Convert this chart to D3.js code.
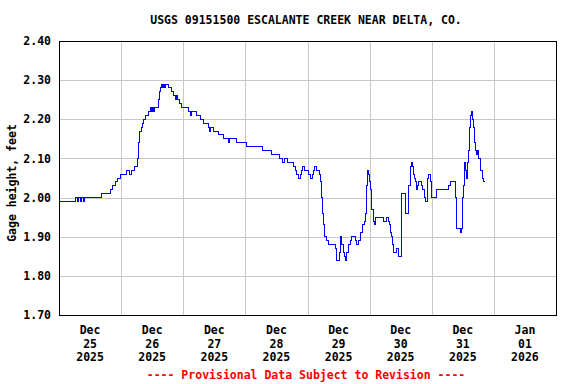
<!DOCTYPE html>
<html>
<head>
<meta charset="utf-8">
<script src="https://cdn.jsdelivr.net/npm/d3@7"></script>
<style>
  body { margin: 0; background: #fff; }
  text { font-family: "DejaVu Sans Mono", "Liberation Mono", monospace; font-weight: bold; }
</style>
</head>
<body>
<div id="my_dataviz"></div>
<script>
// gage height readings (15-min data, only the points where the value changes)
var times = [
  "2025-12-25 00:00","2025-12-25 06:20","2025-12-25 07:10","2025-12-25 07:30","2025-12-25 08:15","2025-12-25 08:40",
  "2025-12-25 09:25","2025-12-25 09:50","2025-12-25 16:25","2025-12-25 19:50","2025-12-25 20:40","2025-12-25 21:50",
  "2025-12-25 22:45","2025-12-25 23:55","2025-12-26 02:00","2025-12-26 03:05","2025-12-26 04:00","2025-12-26 05:10",
  "2025-12-26 06:15","2025-12-26 06:35","2025-12-26 06:45","2025-12-26 07:05","2025-12-26 07:50","2025-12-26 08:15",
  "2025-12-26 08:50","2025-12-26 09:30","2025-12-26 10:25","2025-12-26 11:25","2025-12-26 11:55","2025-12-26 12:15",
  "2025-12-26 12:40","2025-12-26 13:00","2025-12-26 14:25","2025-12-26 14:45","2025-12-26 15:10","2025-12-26 15:35",
  "2025-12-26 16:10","2025-12-26 16:25","2025-12-26 16:55","2025-12-26 17:15","2025-12-26 18:15","2025-12-26 19:25",
  "2025-12-26 20:10","2025-12-26 20:55","2025-12-26 21:20","2025-12-26 21:45","2025-12-26 22:30","2025-12-26 23:15",
  "2025-12-27 02:00","2025-12-27 02:45","2025-12-27 03:10","2025-12-27 05:05","2025-12-27 06:35","2025-12-27 07:45",
  "2025-12-27 09:40","2025-12-27 10:15","2025-12-27 10:40","2025-12-27 11:35","2025-12-27 13:30","2025-12-27 15:30",
  "2025-12-27 17:25","2025-12-27 17:45","2025-12-27 20:45","2025-12-28 00:35","2025-12-28 06:40","2025-12-28 09:55",
  "2025-12-28 13:10","2025-12-28 14:20","2025-12-28 15:10","2025-12-28 16:05","2025-12-28 18:35","2025-12-28 19:15",
  "2025-12-28 19:55","2025-12-28 20:30","2025-12-28 21:10","2025-12-28 21:35","2025-12-28 22:05","2025-12-28 22:50",
  "2025-12-29 00:15","2025-12-29 01:00","2025-12-29 02:00","2025-12-29 02:20","2025-12-29 02:40","2025-12-29 03:40",
  "2025-12-29 04:40","2025-12-29 04:55","2025-12-29 05:15","2025-12-29 05:35","2025-12-29 05:50","2025-12-29 06:10",
  "2025-12-29 06:35","2025-12-29 07:15","2025-12-29 08:05","2025-12-29 10:40","2025-12-29 11:05","2025-12-29 11:20",
  "2025-12-29 12:25","2025-12-29 12:35","2025-12-29 13:00","2025-12-29 13:15","2025-12-29 13:45","2025-12-29 14:15",
  "2025-12-29 14:40","2025-12-29 15:10","2025-12-29 15:50","2025-12-29 16:30","2025-12-29 17:10","2025-12-29 18:25",
  "2025-12-29 19:05","2025-12-29 19:40","2025-12-29 20:35","2025-12-29 21:25","2025-12-29 22:10","2025-12-29 22:30",
  "2025-12-29 22:40","2025-12-29 22:55","2025-12-29 23:10","2025-12-29 23:40","2025-12-30 00:00","2025-12-30 00:10",
  "2025-12-30 00:35","2025-12-30 00:50","2025-12-30 01:20","2025-12-30 01:45","2025-12-30 02:05","2025-12-30 05:15",
  "2025-12-30 06:20","2025-12-30 07:15","2025-12-30 07:45","2025-12-30 08:10","2025-12-30 08:35","2025-12-30 08:50",
  "2025-12-30 09:10","2025-12-30 10:30","2025-12-30 11:05","2025-12-30 12:20","2025-12-30 12:30","2025-12-30 13:40",
  "2025-12-30 13:55","2025-12-30 14:50","2025-12-30 15:05","2025-12-30 15:40","2025-12-30 15:55","2025-12-30 16:15",
  "2025-12-30 16:40","2025-12-30 16:55","2025-12-30 17:10","2025-12-30 17:40","2025-12-30 17:55","2025-12-30 18:20",
  "2025-12-30 18:50","2025-12-30 20:05","2025-12-30 20:30","2025-12-30 21:10","2025-12-30 21:40","2025-12-30 22:10",
  "2025-12-30 22:30","2025-12-30 22:50","2025-12-30 23:20","2025-12-30 23:45","2025-12-31 01:55","2025-12-31 06:25",
  "2025-12-31 07:05","2025-12-31 09:00","2025-12-31 09:10","2025-12-31 09:25","2025-12-31 09:40","2025-12-31 10:55",
  "2025-12-31 11:20","2025-12-31 11:50","2025-12-31 12:00","2025-12-31 12:10","2025-12-31 12:30","2025-12-31 12:50",
  "2025-12-31 13:10","2025-12-31 13:30","2025-12-31 13:50","2025-12-31 14:05","2025-12-31 14:25","2025-12-31 14:45",
  "2025-12-31 15:05","2025-12-31 15:20","2025-12-31 15:45","2025-12-31 16:05","2025-12-31 16:25","2025-12-31 16:55",
  "2025-12-31 17:15","2025-12-31 17:35","2025-12-31 18:05","2025-12-31 18:40","2025-12-31 19:00","2025-12-31 19:30",
  "2025-12-31 19:55","2025-12-31 20:35"
];
var gage = [
  1.99,2.00,1.99,2.00,1.99,2.00,
  1.99,2.00,2.01,2.02,2.03,2.04,
  2.05,2.06,2.07,2.06,2.07,2.08,
  2.10,2.12,2.14,2.17,2.18,2.19,
  2.20,2.21,2.22,2.23,2.22,2.23,
  2.22,2.23,2.25,2.27,2.28,2.29,
  2.28,2.29,2.28,2.29,2.28,2.27,
  2.26,2.25,2.26,2.25,2.24,2.23,
  2.22,2.21,2.22,2.21,2.20,2.19,
  2.18,2.17,2.18,2.17,2.16,2.15,
  2.14,2.15,2.14,2.13,2.12,2.11,
  2.10,2.09,2.10,2.09,2.08,2.07,
  2.06,2.05,2.06,2.07,2.08,2.07,
  2.06,2.05,2.06,2.07,2.08,2.07,
  2.06,2.04,2.02,2.00,1.96,1.93,
  1.90,1.89,1.88,1.87,1.86,1.84,
  1.86,1.90,1.89,1.88,1.86,1.85,
  1.84,1.86,1.88,1.89,1.90,1.89,
  1.88,1.89,1.91,1.93,1.94,1.96,
  1.99,2.03,2.07,2.06,2.04,2.02,
  1.99,1.97,1.94,1.93,1.95,1.94,
  1.95,1.94,1.93,1.91,1.90,1.88,
  1.86,1.87,1.85,1.94,2.01,1.97,
  1.96,2.00,2.03,2.07,2.08,2.09,
  2.08,2.06,2.05,2.04,2.02,2.03,
  2.04,2.03,2.02,2.00,1.99,2.02,
  2.05,2.06,2.04,2.00,2.02,2.03,
  2.04,2.03,2.00,1.96,1.92,1.91,
  1.92,1.96,2.00,2.03,2.06,2.09,
  2.07,2.05,2.09,2.12,2.15,2.18,
  2.21,2.22,2.20,2.18,2.14,2.12,
  2.11,2.12,2.10,2.08,2.07,2.05,
  2.04,2.04
];
var y_ticks = [1.70, 1.80, 1.90, 2.00, 2.10, 2.20, 2.30, 2.40];
var day_labels = [
  ["Dec","25","2025"],["Dec","26","2025"],["Dec","27","2025"],["Dec","28","2025"],
  ["Dec","29","2025"],["Dec","30","2025"],["Dec","31","2025"],["Jan","01","2026"]
];
var day_starts = ["2025-12-25","2025-12-26","2025-12-27","2025-12-28","2025-12-29","2025-12-30","2025-12-31","2026-01-01","2026-01-02"];

var time_parser = d3.timeParse("%Y-%m-%d %H:%M")
var day_parser = d3.timeParse("%Y-%m-%d")

var path_data = [];
for (i=0;i<times.length;i++){
    path_data.push({"date":time_parser(times[i]),"value":gage[i]})
}
var days = day_starts.map(a => day_parser(a))

// set the dimensions and margins of the graph
var margin = {top: 41, right: 20, bottom: 69, left: 59},
    width = 576 - margin.left - margin.right,
    height = 384 - margin.top - margin.bottom;

var root = d3.select("#my_dataviz")
  .append("svg")
    .attr("width", 576)
    .attr("height", 384)
var svg = root.append("g")
    .attr("transform", "translate(" + margin.left + "," + margin.top + ")");

var x = d3.scaleTime()
  .domain([days[0], days[days.length-1]])
  .range([0, width]);
var y = d3.scaleLinear()
  .domain([1.70, 2.40])
  .range([height, 0]);

// grid
svg.append("g")
  .attr("class", "grid")
  .attr("transform", "translate(0," + height + ")")
  .call(d3.axisBottom(x).tickValues(days.slice(1, -1)).tickSize(-height).tickFormat(""))
  .call(g => g.select(".domain").remove())
  .selectAll("line")
    .attr("stroke", "#c8c8c8")
    .attr("shape-rendering", "crispEdges");

svg.append("g")
  .attr("class", "grid")
  .call(d3.axisLeft(y).tickValues(y_ticks.slice(1, -1)).tickSize(-width).tickFormat(""))
  .call(g => g.select(".domain").remove())
  .selectAll("line")
    .attr("stroke", "#c8c8c8")
    .attr("shape-rendering", "crispEdges");

// y tick labels
svg.append("g")
  .call(d3.axisLeft(y).tickValues(y_ticks).tickSize(0).tickPadding(8).tickFormat(d3.format(".2f")))
  .call(g => g.select(".domain").remove())
  .selectAll("text")
    .attr("fill", "#000")
    .style("font-size", "11.5px");

// x labels at noon of each day
var noon = days.slice(0, -1).map(d => d3.timeHour.offset(d, 12))
var xl = svg.append("g")
  .selectAll("text")
  .data(noon)
  .enter()
  .append("text")
    .attr("text-anchor", "middle")
    .style("font-size", "11.5px")
    .attr("fill", "#000");
xl.each(function(d, i) {
  var t = d3.select(this)
  day_labels[i].forEach(function(s, j) {
    t.append("tspan")
      .attr("x", x(d))
      .attr("y", height + 19 + j * 13.5)
      .text(s)
  })
})

// the line
svg.append("path")
  .datum(path_data)
  .attr("fill", "none")
  .attr("stroke", "#0000ff")
  .attr("stroke-width", 1)
  .attr("shape-rendering", "crispEdges")
  .attr("d", d3.line()
    .curve(d3.curveStepAfter)
    .x(function(d) { return x(d.date) })
    .y(function(d) { return y(d.value) })
  )

// frame
svg.append("rect")
  .attr("x", 0)
  .attr("y", 0)
  .attr("width", width)
  .attr("height", height)
  .attr("fill", "none")
  .attr("stroke", "#000")
  .attr("stroke-width", 1)
  .attr("shape-rendering", "crispEdges");

// titles
root.append("text")
  .attr("x", 306)
  .attr("y", 24)
  .attr("text-anchor", "middle")
  .style("font-size", "11.5px")
  .text("USGS 09151500 ESCALANTE CREEK NEAR DELTA, CO.");

root.append("text")
  .attr("transform", "translate(16,183) rotate(-90)")
  .attr("text-anchor", "middle")
  .style("font-size", "11.5px")
  .text("Gage height, feet");

root.append("text")
  .attr("x", 306)
  .attr("y", 379)
  .attr("text-anchor", "middle")
  .attr("fill", "#ff0000")
  .style("font-size", "11.5px")
  .text("---- Provisional Data Subject to Revision ----");
</script>
</body>
</html>
